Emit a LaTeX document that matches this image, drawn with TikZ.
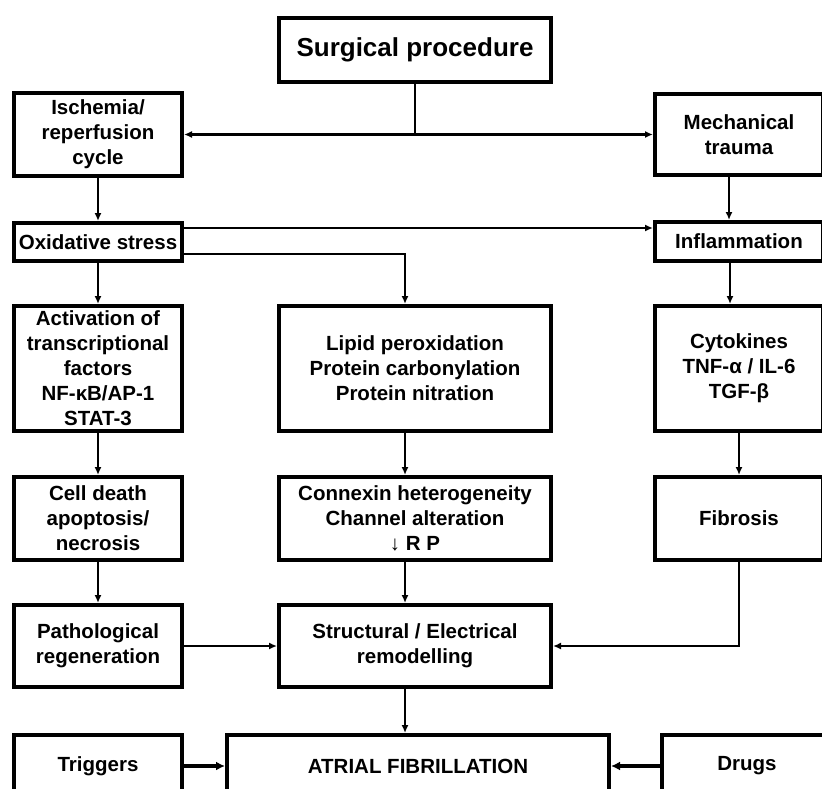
\documentclass[tikz,border=0pt]{standalone}
\usepackage{fontspec}
\setmainfont{Liberation Sans}
\usetikzlibrary{arrows.meta,positioning}
\tikzset{
    %Define standard arrow tip
    >={Latex[length=8pt,width=7pt]},
    %Define style for boxes
    stage/.style={
           rectangle,
           draw=black, line width=4pt,
           inner sep=2pt,
           font=\fontsize{20.5}{25}\selectfont\bfseries,
           align=center},
    % Define arrow style
    pil/.style={
           ->,
           line width=2.5pt},
    wire/.style={
           line width=2.5pt},
    thickpil/.style={
           -{Latex[length=9pt,width=9pt]},
           line width=3.6pt}
}
\begin{document}
\begin{tikzpicture}[x=1pt,y=1pt]
\useasboundingbox (0,0) rectangle (822,-789);
 %nodes
\node[stage, minimum width=272pt, minimum height=64pt,
      font=\fontsize{26}{30}\selectfont\bfseries] (surgery) at (415,-50) {Surgical procedure};
\node[stage, minimum width=168pt, minimum height=83pt] (ischemia) at (98,-134.5) {Ischemia/\\reperfusion\\cycle};
\node[stage, minimum width=168pt, minimum height=81pt] (trauma) at (739,-134.5) {Mechanical\\trauma};
\node[stage, minimum width=168pt, minimum height=38pt] (oxstress) at (98,-242) {Oxidative stress};
\node[stage, minimum width=168pt, minimum height=39pt] (inflam) at (739,-241.5) {Inflammation};
\node[stage, minimum width=168pt, minimum height=125pt] (activation) at (98,-368.5) {Activation of\\transcriptional\\factors\\NF-κB/AP-1\\STAT-3};
\node[stage, minimum width=272pt, minimum height=125pt] (lipid) at (415,-368.5) {Lipid peroxidation\\Protein carbonylation\\Protein nitration};
\node[stage, minimum width=168pt, minimum height=125pt] (cytokines) at (739,-368.5) {Cytokines\\TNF-α / IL-6\\TGF-β};
\node[stage, minimum width=168pt, minimum height=83pt] (death) at (98,-518.5) {Cell death\\apoptosis/\\necrosis};
\node[stage, minimum width=272pt, minimum height=83pt] (connexin) at (415,-518.5) {Connexin heterogeneity\\Channel alteration\\↓ R P};
\node[stage, minimum width=168pt, minimum height=83pt] (fibrosis) at (739,-518.5) {Fibrosis};
\node[stage, minimum width=168pt, minimum height=82pt] (regen) at (98,-646) {Pathological\\regeneration};
\node[stage, minimum width=272pt, minimum height=82pt] (remodel) at (415,-646) {Structural / Electrical\\remodelling};
\node[stage, minimum width=168pt, minimum height=62pt] (triggers) at (98,-766) {Triggers};
\node[stage, minimum width=382pt, minimum height=62pt] (af) at (418,-766) {ATRIAL FIBRILLATION};
\node[stage, minimum width=170pt, minimum height=62pt] (drugs) at (747,-766) {Drugs};
 %connectors
\draw[wire] (surgery.south) -- (surgery.south |- ischemia.east);
\draw[pil, <->] (ischemia.east) -- (trauma.west);
\draw[pil] (ischemia) -- (oxstress);
\draw[pil] ([xshift=-10pt]trauma.south) -- ([xshift=-10pt]inflam.north);
\draw[pil] ([yshift=14pt]oxstress.east) -- ([yshift=14pt]oxstress.east -| inflam.west);
\draw[pil] ([yshift=-12pt]oxstress.east) -| ([xshift=-10pt]lipid.north);
\draw[pil] (oxstress) -- (activation);
\draw[pil] ([xshift=-9pt]inflam.south) -- ([xshift=-9pt]cytokines.north);
\draw[pil] (activation) -- (death);
\draw[pil] ([xshift=-10pt]lipid.south) -- ([xshift=-10pt]connexin.north);
\draw[pil] (cytokines) -- (fibrosis);
\draw[pil] (death) -- (regen);
\draw[pil] ([xshift=-10pt]connexin.south) -- ([xshift=-10pt]remodel.north);
\draw[pil] (regen) -- (remodel);
\draw[pil] (fibrosis.south) |- (remodel.east);
\draw[pil] ([xshift=-10pt]remodel.south) -- ([xshift=-10pt]remodel.south |- af.north);
\draw[thickpil] (triggers) -- (af);
\draw[thickpil] (drugs) -- (af);
\end{tikzpicture}
\end{document}
